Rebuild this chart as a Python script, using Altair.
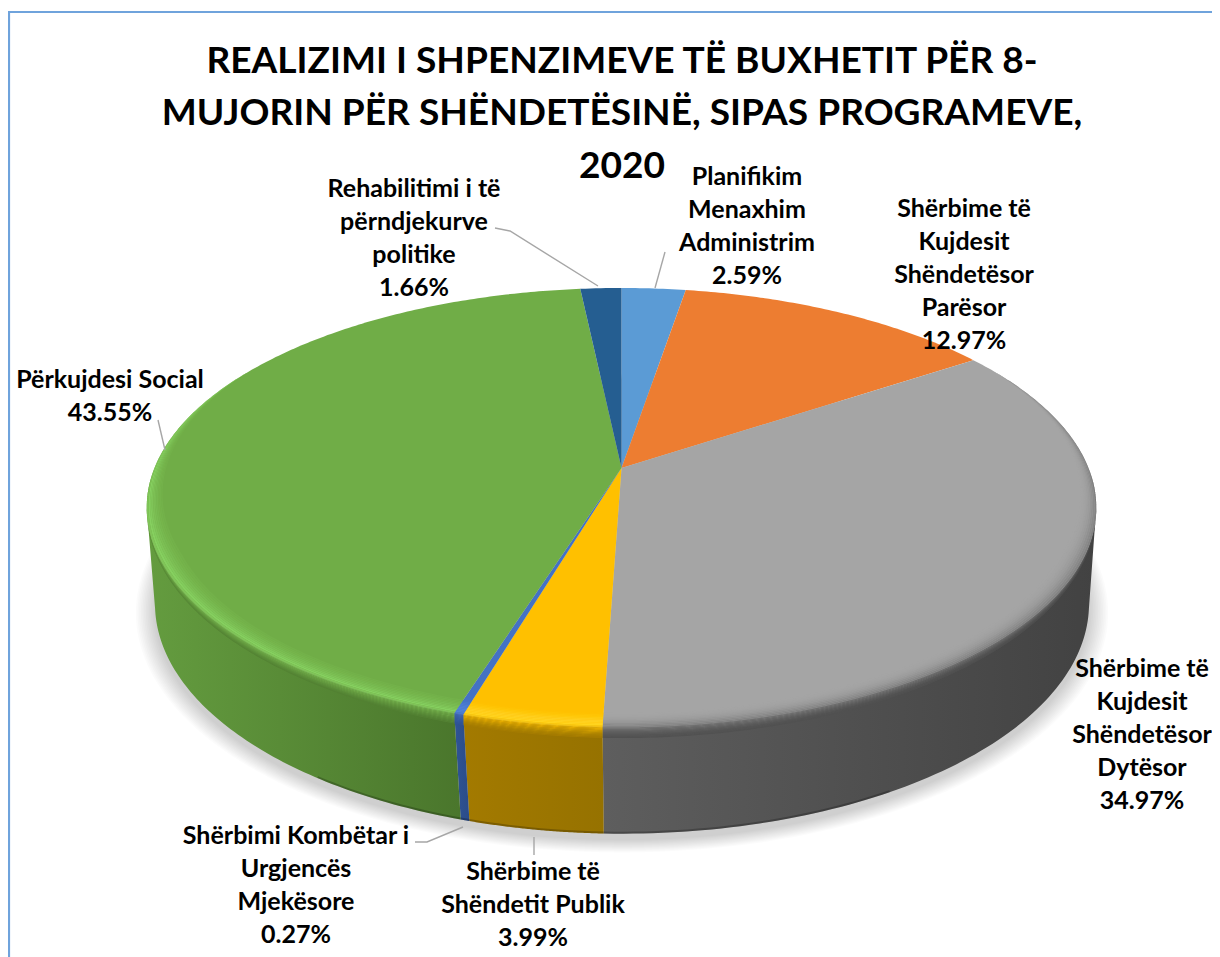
import numpy as np
import altair as alt

# ---- chart values ----
categories = ["Planifikim Menaxhim Administrim", "Shërbime të Kujdesit Shëndetësor Parësor",
              "Shërbime të Kujdesit Shëndetësor Dytësor", "Shërbime të Shëndetit Publik",
              "Shërbimi Kombëtar i Urgjencës Mjekësore", "Përkujdesi Social",
              "Rehabilitimi i të përndjekurve politike"]
values = [2.59, 12.97, 34.97, 3.99, 0.27, 43.55, 1.66]
label_lines = [["Planifikim", "Menaxhim", "Administrim"],
               ["Shërbime të", "Kujdesit", "Shëndetësor", "Parësor"],
               ["Shërbime të", "Kujdesit", "Shëndetësor", "Dytësor"],
               ["Shërbime të", "Shëndetit Publik"],
               ["Shërbimi Kombëtar i", "Urgjencës", "Mjekësore"],
               ["Përkujdesi Social"],
               ["Rehabilitimi i të", "përndjekurve", "politike"]]
title_lines = ["REALIZIMI I SHPENZIMEVE TË BUXHETIT PËR 8-",
               "MUJORIN PËR SHËNDETËSINË, SIPAS PROGRAMEVE,",
               "2020"]

# ---- styles ----
top_colors = ["#5B9BD5", "#ED7D31", "#A5A5A5", "#FFC000", "#4472C4", "#70AD47", "#255E91"]
wall_colors = [("#3b6e9e", "#3b6e9e"), ("#a85820", "#a85820"), ("#5e5e5e", "#424242"),
               ("#a37a00", "#967200"), ("#2f5496", "#2b4c88"), ("#649c3f", "#4a762c"),
               ("#1a4266", "#1a4266")]
ring_stops = {
    1: ["#ED7D31", "#ee8238", "#f0883f", "#f08a42", "#e57a30", "#c96a28", "#b86024", "#a85820"],
    2: ["#A5A5A5", "#a3a3a3", "#9a9a9a", "#8a8a8a", "#747474", "#626262", "#555555", "#505050"],
    3: ["#ffc000", "#ffc808", "#ffd020", "#ffd41e", "#e4ab00", "#c89800", "#b08500", "#a37a00"],
    4: ["#4472c4", "#4a7bd0", "#4f82d8", "#4f82d8", "#4168b4", "#3a60a8", "#335aa0", "#2f5496"],
    5: ["#72b049", "#76b64d", "#7cc055", "#86d060", "#72ad4b", "#669c41", "#5a8c39", "#527f32"],
}
shift = 8  # page margin
W, H = 1204, 949

# perspective of the disc
def proj(theta, r=1.0, cx=621.5, cy=468, a=467, b=212.4, k=0.18):
    u, v = r * np.sin(theta), r * np.cos(theta)
    w = 1 + k * v
    return cx + a * u / w - shift, cy - b * v / w - shift

def base(theta, r=1.0):
    return proj(theta, r, cx=622, cy=567, a=461, b=224, k=0.16)

def poly(name, xs, ys):
    ring = [[float(x), float(y)] for x, y in zip(xs, ys)]
    ring.append(ring[0])
    return {"type": "Feature", "name": name, "geometry": {"type": "Polygon", "coordinates": [ring]}}

def line(pts):
    return {"type": "Feature", "geometry": {"type": "LineString",
            "coordinates": [[float(x) - shift, float(y) - shift] for x, y in pts]}}

def mix(stops, f):
    """colour at position f (0..1) along a list of hex colours"""
    rgb = np.array([[int(c[i:i + 2], 16) for i in (1, 3, 5)] for c in stops], float)
    pos = np.linspace(0, 1, len(stops))
    return "#%02x%02x%02x" % tuple(int(round(np.interp(f, pos, rgb[:, ch]))) for ch in range(3))

PROJ = dict(type="identity", scale=1, translate=[0, 0])
edges = np.concatenate([[0], np.cumsum(values)]) / 100 * 2 * np.pi
layers = []

# soft shadow under the body
all_t = np.linspace(0, 2 * np.pi, 240)
for r in np.linspace(1.04, 1.002, 12):
    xs, ys = base(all_t, r)
    layers.append(alt.Chart(alt.Data(values=[poly("shadow", xs, ys + 6)]))
                  .mark_geoshape(fill="#000000", opacity=.014).project(**PROJ))

# side walls
for i, name in enumerate(categories):
    lo, hi = max(edges[i], np.radians(100.4)), min(edges[i + 1], np.radians(259.6))
    if hi <= lo:
        continue
    t = np.linspace(lo, hi, 80)
    x1, y1 = proj(t)
    x2, y2 = base(t)
    grad = alt.LinearGradient(gradient="linear", x1=0, x2=1, y1=0, y2=0,
                              stops=[alt.GradientStop(color=wall_colors[i][0], offset=0),
                                     alt.GradientStop(color=wall_colors[i][1], offset=1)])
    layers.append(alt.Chart(alt.Data(values=[poly(name, np.r_[x1, x2[::-1]], np.r_[y1, y2[::-1]])]))
                  .mark_geoshape(fill=grad).project(**PROJ))

# darker lower edge of the body
t = np.linspace(np.radians(150), np.radians(215), 60)
x2, y2 = base(t)
layers.append(alt.Chart(alt.Data(values=[line(zip(x2 + shift, y2 + shift - 1))]))
              .mark_geoshape(filled=False, stroke="#000000", strokeWidth=2, opacity=.22).project(**PROJ))

# top faces
faces = []
for i, name in enumerate(categories):
    t = np.linspace(edges[i], edges[i + 1], max(4, int(values[i] * 6)))
    x, y = proj(t)
    cx, cy = proj(np.array([0.0]), 0.0)
    faces.append(poly(name, np.r_[cx, x], np.r_[cy, y]))
layers.append(alt.Chart(alt.Data(values=faces)).mark_geoshape().encode(
    color=alt.Color("name:N", scale=alt.Scale(domain=categories, range=top_colors), legend=None)
).project(**PROJ))

# bevel along the front of the rim
steps = 20
for i, stops in ring_stops.items():
    t = np.linspace(edges[i], edges[i + 1], max(6, int(values[i] * 6)))
    taper = np.clip((0.5 - np.cos(t)) / 0.9, 0, 1)
    front = np.clip(-np.cos(t), 0, 1)
    inner = 1 - 0.045 * taper

    def edge(f):
        # inner half of the steps runs to the rim, outer half drops straight down from it
        if f <= .5:
            return proj(t, inner + (1 - inner) * f * 2)
        x, y = proj(t)
        return x, y + 11 * front * (f - .5) * 2

    fracs = np.linspace(0, 1, steps + 1)
    for j in range(steps):
        x1, y1 = edge(fracs[j])
        x2, y2 = edge(fracs[j + 1])
        layers.append(alt.Chart(alt.Data(values=[poly(categories[i], np.r_[x1, x2[::-1]], np.r_[y1, y2[::-1]])]))
                      .mark_geoshape(fill=mix(stops, (j + .5) / steps)).project(**PROJ))

# frame and leader lines
frame = [line([(9, 957), (9, 12), (1220, 12)])]
layers.append(alt.Chart(alt.Data(values=frame))
              .mark_geoshape(filled=False, stroke="#6FA3DC", strokeWidth=2.2).project(**PROJ))
leaders = [line([(665, 252), (655, 288)]),
           line([(495, 228), (510, 231), (598, 286)]),
           line([(158, 420), (165, 450)]),
           line([(415, 842), (427, 842), (463, 827)]),
           line([(534, 837), (534, 855)])]
layers.append(alt.Chart(alt.Data(values=leaders))
              .mark_geoshape(filled=False, stroke="#A6A6A6", strokeWidth=1.4).project(**PROJ))

# data labels
label_at = {0: (747, 165), 1: (964, 197), 2: (1142, 657), 3: (533, 860), 4: (296, 824), 5: (110, 368), 6: (414, 177)}
for i, lines in enumerate(label_lines):
    x, y = label_at[i]
    layers.append(alt.Chart(alt.Data(values=[{"t": "\n".join(lines + [f"{values[i]:.2f}%"])}]))
                  .mark_text(font="Lato", fontWeight="bold", fontSize=25, lineHeight=33, lineBreak="\n",
                             align="center", baseline="top", color="#000000")
                  .encode(x=alt.value(x - shift), y=alt.value(y - shift), text="t:N"))

chart = alt.layer(*layers).properties(
    width=W, height=H, padding=0,
    autosize=alt.AutoSizeParams(type="none"),
    title=alt.TitleParams(text=title_lines, font="Lato", fontWeight="bold", fontSize=37.1, lineHeight=52.5,
                          color="#000000", anchor="middle", frame="group", dx=12, offset=-207, baseline="alphabetic"),
).configure_view(stroke=None)

chart.save("out.html", embed_options={"renderer": "svg", "actions": False})
